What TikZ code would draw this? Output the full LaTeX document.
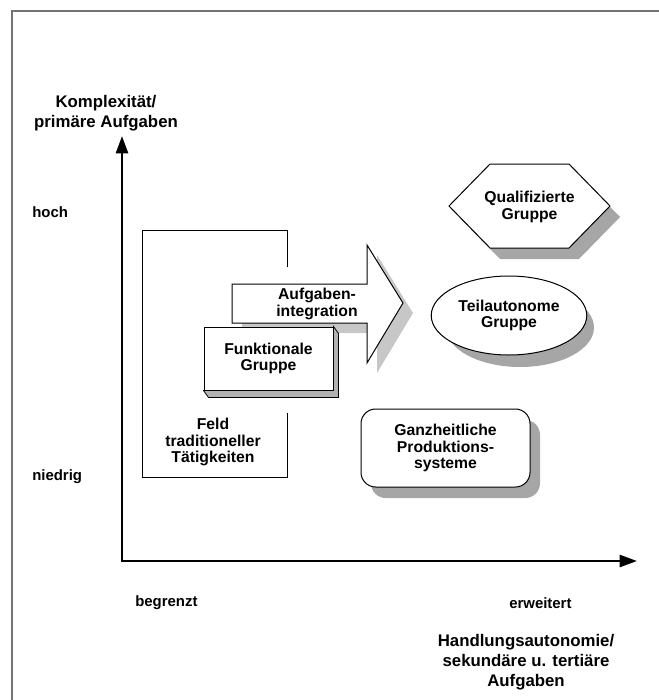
\documentclass[tikz,border=0pt]{standalone}
\usepackage{fontspec}
\setmainfont{Liberation Sans}
\usetikzlibrary{calc,shapes,arrows.meta}

\begin{document}
\begin{tikzpicture}[x=0.75pt,y=-0.75pt]
	\tikzstyle{framebox} = [draw=black!55, line width=1.1pt]
	\tikzstyle{axisline} = [line width=1.9pt, <->, >={Triangle[length=13pt,width=9pt]}]
	\tikzstyle{shadowfill} = [fill=black!35, draw=none]
	\tikzstyle{lightshadow} = [fill=black!22, draw=none]
	\tikzstyle{outline} = [draw=black, line width=0.75pt, fill=white]
	\tikzstyle{scalelabel} = [font=\bfseries\fontsize{11.2}{13}\selectfont, anchor=west, inner sep=0pt]
	\tikzstyle{axistitle} = [font=\bfseries\fontsize{12.6}{15}\selectfont, align=center]
	\tikzstyle{boxtext} = [font=\bfseries\fontsize{11.8}{12.2}\selectfont, align=center]
	
	\useasboundingbox (0,0) rectangle (659,700);
	% Rahmen
	\draw [framebox] (659,11) -- (12,11) -- (12,700);
	
	% Achsen
	\coordinate (origin) at (122,561);
	\coordinate (ytop) at (122,136);
	\coordinate (xend) at (637,561);
	\draw [axisline] (ytop) -- (origin) -- (xend);
	\node (ytitle) [axistitle] at (106,113) {Komplexität/\\primäre Aufgaben};
	\node (xtitle) [axistitle] at (526,662) {Handlungsautonomie/\\sekundäre u. tertiäre\\Aufgaben};
	\node (hoch) [scalelabel] at (32,212) {hoch};
	\node (niedrig) [scalelabel] at (32,477) {niedrig};
	\node (begrenzt) [scalelabel] at (135,603) {begrenzt};
	\node (erweitert) [scalelabel] at (509,603) {erweitert};
	
	% Feld traditioneller Taetigkeiten
	\draw [outline, fill=none] (287,267) -- (287,230) -- (142,230) -- (142,477) -- (287,477) -- (287,413);
	\node (field) [boxtext] at (213,442) {Feld\\traditioneller\\Tätigkeiten};
	
	% Pfeil Aufgabenintegration
	\fill [lightshadow, shift={(10,10)}] (232,284) -- (367,284) -- (367,245) -- (403,303) -- (367,363) -- (367,323) -- (232,323) -- cycle;
	\draw [outline] (232,284) -- (367,284) -- (367,245) -- (403,303) -- (367,363) -- (367,323) -- (232,323) -- cycle;
	\node (integ) [boxtext] at (317,304) {Aufgaben-\\integration};
	
	% Funktionale Gruppe
	\node (funk) [boxtext, outline, minimum width=96.75pt, minimum height=47.25pt] at (268.5,358.5) {Funktionale\\Gruppe};
	\draw [fill=black!30, line width=0.6pt] (funk.south west) -- ++(5,7) -- ($(funk.south east)+(5,7)$) -- ($(funk.north east)+(5,7)$) -- (funk.north east) -- (funk.south east) -- cycle;
	
	% Qualifizierte Gruppe
	\fill [shadowfill, shift={(10,11)}] (449,206) -- (490,164) -- (569,164) -- (610,206) -- (569,248) -- (490,248) -- cycle;
	\draw [outline] (449,206) -- (490,164) -- (569,164) -- (610,206) -- (569,248) -- (490,248) -- cycle;
	\node (qual) [boxtext] at (529.5,207) {Qualifizierte\\Gruppe};
	
	% Teilautonome Gruppe
	\node (teilshadow) [ellipse, shadowfill, minimum width=111pt, minimum height=59.25pt] at (520,327.5) {};
	\node (teil) [ellipse, boxtext, outline, minimum width=111pt, minimum height=59.25pt] at (509,315.5) {Teilautonome\\Gruppe};
	
	% Ganzheitliche Produktionssysteme
	\node (ganzshadow) [rectangle, rounded corners=11pt, shadowfill, minimum width=126.75pt, minimum height=58.5pt] at (455.5,459) {};
	\node (ganz) [rectangle, rounded corners=11pt, boxtext, outline, minimum width=126.75pt, minimum height=58.5pt] at (445.5,448) {Ganzheitliche\\Produktions-\\systeme};
\end{tikzpicture}
\end{document}
